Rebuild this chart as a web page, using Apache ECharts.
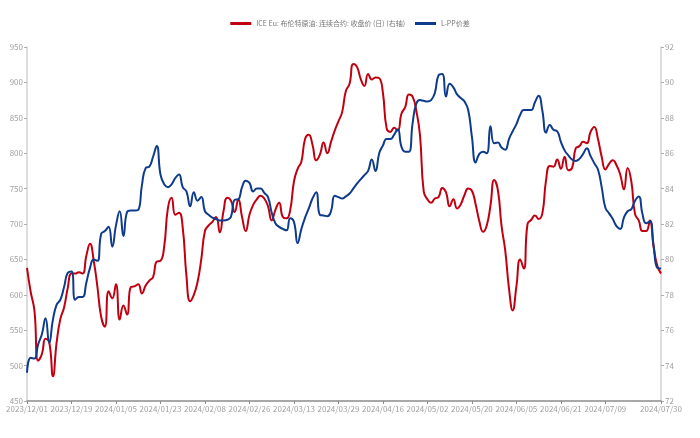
<!DOCTYPE html>
<html><head><meta charset="utf-8">
<script src="https://cdn.jsdelivr.net/npm/echarts@6/dist/echarts.min.js"></script>
<style>html,body{margin:0;padding:0;background:#fff}#c{width:700px;height:438px}</style>
</head><body><div id="c"></div>
<script>
// Trading-day categories: weekdays 2023-12-01 .. 2024-07-30, excluding days with no data
const startDate = '2023-12-01';
const endDate = '2024-07-30';
const closedDays = ['2024-01-01'];
function buildDates(){
  const out = [];
  const d = new Date(startDate + 'T00:00:00Z');
  const e = new Date(endDate + 'T00:00:00Z');
  while (d <= e) {
    const wd = d.getUTCDay();
    const iso = d.toISOString().slice(0,10);
    if (wd !== 0 && wd !== 6 && closedDays.indexOf(iso) < 0) out.push(iso.replace(/-/g,'/'));
    d.setUTCDate(d.getUTCDate()+1);
  }
  return out;
}
const categories = buildDates();

const seriesBrentName = 'ICE Eu: 布伦特原油: 连续合约: 收盘价 (日) (右轴)';
const seriesSpreadName = 'L-PP价差';

const brent = [
79.52,78.16,77.12,74.28,74.64,75.52,75.32,73.40,75.32,76.64,
77.28,78.40,79.20,79.20,79.28,79.20,80.20,80.88,79.92,78.44,
76.76,76.20,78.20,77.80,78.60,76.60,77.40,76.88,78.44,78.48,
78.60,78.08,78.52,78.80,79.00,79.88,79.92,80.72,82.88,83.48,
82.52,82.64,81.80,79.08,77.64,78.00,78.72,80.00,81.60,81.92,
82.12,82.40,81.52,82.72,83.48,83.32,82.68,83.40,82.40,81.60,
82.52,83.08,83.40,83.60,83.44,83.00,82.20,82.80,83.20,82.40,
82.32,82.80,84.40,85.12,85.52,86.80,87.04,86.48,85.60,85.92,
86.60,86.00,86.64,87.28,87.80,88.32,89.52,89.92,91.04,90.88,
90.20,89.80,90.48,90.16,90.28,90.24,89.40,87.40,87.20,87.44,
87.28,88.24,88.60,89.32,89.20,88.40,87.00,83.84,83.40,83.20,
83.44,83.52,84.04,83.80,83.00,83.40,82.88,83.12,83.64,84.00,
83.88,83.12,82.16,81.56,81.92,83.04,84.48,83.92,81.88,80.48,
78.36,77.12,78.48,80.00,79.48,82.00,82.24,82.48,82.28,82.60,
84.48,85.28,85.24,85.64,85.12,85.80,85.04,85.16,86.28,86.40,
86.64,86.56,87.20,87.48,86.80,85.80,85.08,85.40,85.60,85.32,
84.80,83.96,85.16,84.40,82.56,82.20,81.60,81.60,82.20,80.72,
79.64,79.20
];

const spread = [
490,511,510,530,544,567,532,565,586,593,
611,631,633,593,597,597,617,638,650,648,
686,690,696,668,698,718,683,717,719,719,
720,755,779,781,795,810,770,756,752,756,
765,770,752,746,725,745,733,738,718,713,
709,707,705,705,706,710,734,735,752,761,
758,746,750,750,744,738,716,701,696,693,
691,708,703,673,693,709,722,736,745,713,
712,711,718,740,738,736,739,743,750,757,
763,769,775,791,775,800,811,820,820,826,
834,809,802,802,842,870,875,874,873,875,
885,910,912,880,898,893,883,878,873,861,
823,787,799,802,800,838,814,815,808,805,
820,831,841,854,861,861,861,872,881,860,
829,840,833,831,816,804,797,791,789,792,
799,807,796,786,777,752,723,715,707,697,
693,709,718,721,733,739,714,701,704,670,
638,637
];

const leftTicks = {min:450, max:950, interval:50};
const rightTicks = {min:72, max:92, interval:2};

const chart = echarts.init(document.getElementById('c'), null, {renderer:'canvas'});
const lastIdx = categories.length - 1;
const showLabel = function(idx){ return (idx % 12 === 0 && idx < lastIdx - 6) || idx === lastIdx; };
const axisFont = {fontFamily:'"Noto Sans CJK SC", "Noto Sans", sans-serif', fontSize:8, color:'#a0a0a0'};
chart.setOption({
  animation:false,
  backgroundColor:'#fff',
  legend:{
    top:15, left:'center', itemWidth:21, itemHeight:3, itemGap:10, icon:'rect',
    textStyle:{fontFamily:'"Noto Sans CJK SC", sans-serif', fontSize:7, color:'#777'},
    data:[seriesBrentName, seriesSpreadName]
  },
  grid:{left:27, right:39, top:47, bottom:37, containLabel:false},
  xAxis:{
    type:'category', data:categories, boundaryGap:false,
    axisLine:{lineStyle:{color:'#8c8c8c', width:1.5}},
    axisTick:{show:true, interval:showLabel, length:3, lineStyle:{color:'#8c8c8c'}},
    axisLabel:Object.assign({interval:showLabel, margin:4}, axisFont),
    splitLine:{show:false}
  },
  yAxis:[
    Object.assign({type:'value', position:'left',
      axisLine:{show:true, lineStyle:{color:'#d0d0d0', width:1.5}},
      axisTick:{show:true, length:3, lineStyle:{color:'#b0b0b0'}},
      axisLabel:Object.assign({margin:4}, axisFont),
      splitLine:{show:false}}, leftTicks),
    Object.assign({type:'value', position:'right',
      axisLine:{show:true, lineStyle:{color:'#d0d0d0', width:1.5}},
      axisTick:{show:true, length:3, lineStyle:{color:'#b0b0b0'}},
      axisLabel:Object.assign({margin:4}, axisFont),
      splitLine:{show:false}}, rightTicks)
  ],
  series:[
    {name:seriesBrentName, type:'line', yAxisIndex:1, data:brent, smooth:0.5, symbol:'none',
     lineStyle:{color:'#c00010', width:2}, itemStyle:{color:'#c00010'}, z:2},
    {name:seriesSpreadName, type:'line', yAxisIndex:0, data:spread, smooth:0.5, symbol:'none',
     lineStyle:{color:'#0e3b8c', width:2}, itemStyle:{color:'#0e3b8c'}, z:3}
  ]
});
</script></body></html>
